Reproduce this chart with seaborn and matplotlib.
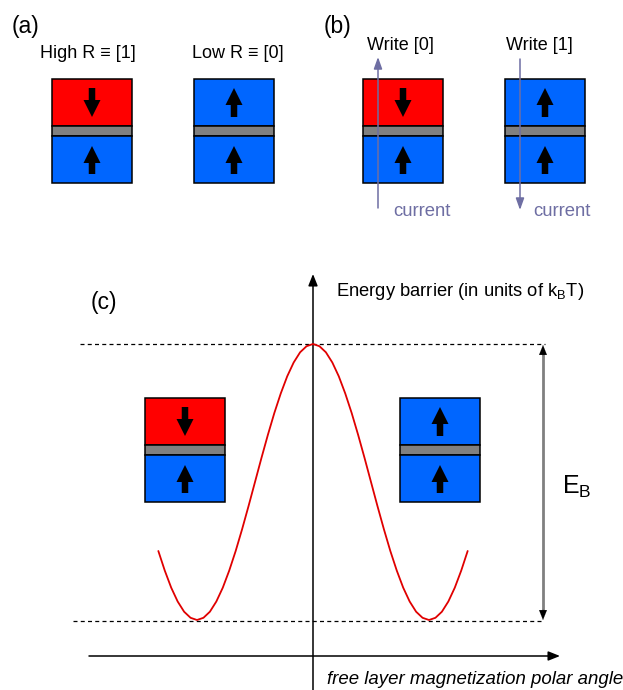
import numpy as np
import matplotlib
matplotlib.use("Agg")
import matplotlib.pyplot as plt
from matplotlib.patches import Rectangle
import seaborn as sns

# ---- data -------------------------------------------------------------
# energy barrier profile (in units of E_B) versus free-layer polar angle (deg)
angle_deg = [-30, -25, -20, -15, -10, -5, 0, 5, 10, 15, 20, 25, 30, 35, 40, 45,
             50, 55, 60, 65, 70, 75, 80, 85, 90, 95, 100, 105, 110, 115, 120,
             125, 130, 135, 140, 145, 150, 155, 160, 165, 170, 175, 180, 185,
             190, 195, 200, 205, 210]
energy = [0.250, 0.179, 0.117, 0.067, 0.030, 0.008, 0.000, 0.008, 0.030, 0.067,
          0.117, 0.179, 0.250, 0.329, 0.413, 0.500, 0.587, 0.671, 0.750, 0.821,
          0.883, 0.933, 0.970, 0.992, 1.000, 0.992, 0.970, 0.933, 0.883, 0.821,
          0.750, 0.671, 0.587, 0.500, 0.413, 0.329, 0.250, 0.179, 0.117, 0.067,
          0.030, 0.008, 0.000, 0.008, 0.030, 0.067, 0.117, 0.179, 0.250]

panel_labels = ["(a)", "(b)", "(c)"]
state_labels = ["High R \u2261 [1]", "Low R \u2261 [0]"]
write_labels = ["Write [0]", "Write [1]"]
current_label = "current"
y_axis_label = r"Energy barrier (in units of k$_\mathregular{B}$T)"
x_axis_label = "free layer magnetization polar angle"
barrier_label = r"E$_\mathregular{B}$"

# ---- style ------------------------------------------------------------
sns.set_style("white")
plt.rcParams["font.family"] = ["Liberation Sans", "DejaVu Sans"]
plt.rcParams["mathtext.fontset"] = "custom"
plt.rcParams["mathtext.rm"] = "Liberation Sans"
plt.rcParams["text.color"] = "black"

RED = "#FF0000"
BLUE = "#0066FF"
GRAY = "#808080"
CUR = "#6E6EA3"
W, H = 623, 690

fig = plt.figure(figsize=(W / 100, H / 100), dpi=100)
ax = fig.add_axes([0, 0, 1, 1])
ax.set_xlim(0, W)
ax.set_ylim(H, 0)
ax.axis("off")


def block_arrow(x, y_tail, y_tip, z=5):
    ax.arrow(x, y_tail, 0, y_tip - y_tail, width=6.5, head_width=17,
             head_length=17, length_includes_head=True, color="black",
             lw=0, zorder=z)


def mtj(x0, y0, top_color, top_up):
    w = 80
    ax.add_patch(Rectangle((x0, y0), w, 47, facecolor=top_color,
                           edgecolor="black", lw=1.1, zorder=2))
    ax.add_patch(Rectangle((x0, y0 + 47), w, 10, facecolor=GRAY,
                           edgecolor="black", lw=1.1, zorder=2))
    ax.add_patch(Rectangle((x0, y0 + 57), w, 47, facecolor=BLUE,
                           edgecolor="black", lw=1.1, zorder=2))
    cx = x0 + w / 2
    if top_up:
        block_arrow(cx, y0 + 38, y0 + 9)
    else:
        block_arrow(cx, y0 + 9, y0 + 38)
    block_arrow(cx, y0 + 95, y0 + 67)


# ---- panel (a) --------------------------------------------------------
ax.text(12, 26, panel_labels[0], fontsize=16.5, va="center", ha="left")
ax.text(88, 53, state_labels[0], fontsize=13, va="center", ha="center")
ax.text(238, 53, state_labels[1], fontsize=13, va="center", ha="center")
mtj(52, 79, RED, False)
mtj(194, 79, BLUE, True)

# ---- panel (b) --------------------------------------------------------
ax.text(324, 26, panel_labels[1], fontsize=16.5, va="center", ha="left")
ax.text(400, 45, write_labels[0], fontsize=13, va="center", ha="center")
ax.text(539, 45, write_labels[1], fontsize=13, va="center", ha="center")
mtj(363, 79, RED, False)
mtj(505, 79, BLUE, True)
ax.annotate("", xy=(378, 57), xytext=(378, 208),
            arrowprops=dict(arrowstyle="-|>,head_length=0.7,head_width=0.25",
                            color=CUR, lw=1.1, shrinkA=0, shrinkB=0), zorder=6)
ax.annotate("", xy=(520, 210), xytext=(520, 59),
            arrowprops=dict(arrowstyle="-|>,head_length=0.7,head_width=0.25",
                            color=CUR, lw=1.1, shrinkA=0, shrinkB=0), zorder=6)
ax.text(393, 212, current_label, fontsize=13.3, color=CUR, va="center", ha="left")
ax.text(533, 212, current_label, fontsize=13.3, color=CUR, va="center", ha="left")

# ---- panel (c) --------------------------------------------------------
ax.text(91, 302, panel_labels[2], fontsize=16.5, va="center", ha="left")
ax.text(336, 292, y_axis_label, fontsize=13.2, va="center", ha="left")
ax.text(562, 487, barrier_label, fontsize=18, va="center", ha="left")
ax.text(327, 679, x_axis_label, fontsize=13.4, style="italic",
        va="center", ha="left")

arr = dict(arrowstyle="-|>,head_length=0.7,head_width=0.28", color="black",
           lw=1.1, shrinkA=0, shrinkB=0)
ax.annotate("", xy=(313, 274), xytext=(313, 690), arrowprops=arr)
ax.annotate("", xy=(560, 656), xytext=(89, 656), arrowprops=arr)

ax.plot([80, 545], [344, 344], color="black", lw=0.9, dashes=(3.2, 2.6))
ax.plot([73, 543], [621, 621], color="black", lw=0.9, dashes=(3.2, 2.6))

ax.plot([543, 543], [352, 613], color=GRAY, lw=2.0, solid_capstyle="butt")
ax.annotate("", xy=(543, 345), xytext=(543, 356),
            arrowprops=dict(arrowstyle="-|>,head_length=0.7,head_width=0.28",
                            color="black", lw=0.1, shrinkA=0, shrinkB=0))
ax.annotate("", xy=(543, 620), xytext=(543, 609),
            arrowprops=dict(arrowstyle="-|>,head_length=0.7,head_width=0.28",
                            color="black", lw=0.1, shrinkA=0, shrinkB=0))

mtj(145, 398, RED, False)
mtj(400, 398, BLUE, True)

# curve axes: angle 0..180 deg spans x=197..429 px, energy 0..1 spans y=620..344 px
cax = fig.add_axes([197 / W, (H - 620) / H, 232 / W, 276 / H])
cax.set_xlim(0, 180)
cax.set_ylim(0, 1)
cax.patch.set_alpha(0)
cax.axis("off")
sns.lineplot(x=angle_deg, y=energy, sort=False, estimator=None,
             color="#E00000", lw=1.3, ax=cax)
for ln in cax.lines:
    ln.set_clip_on(False)

fig.savefig("out.png", dpi=100)
